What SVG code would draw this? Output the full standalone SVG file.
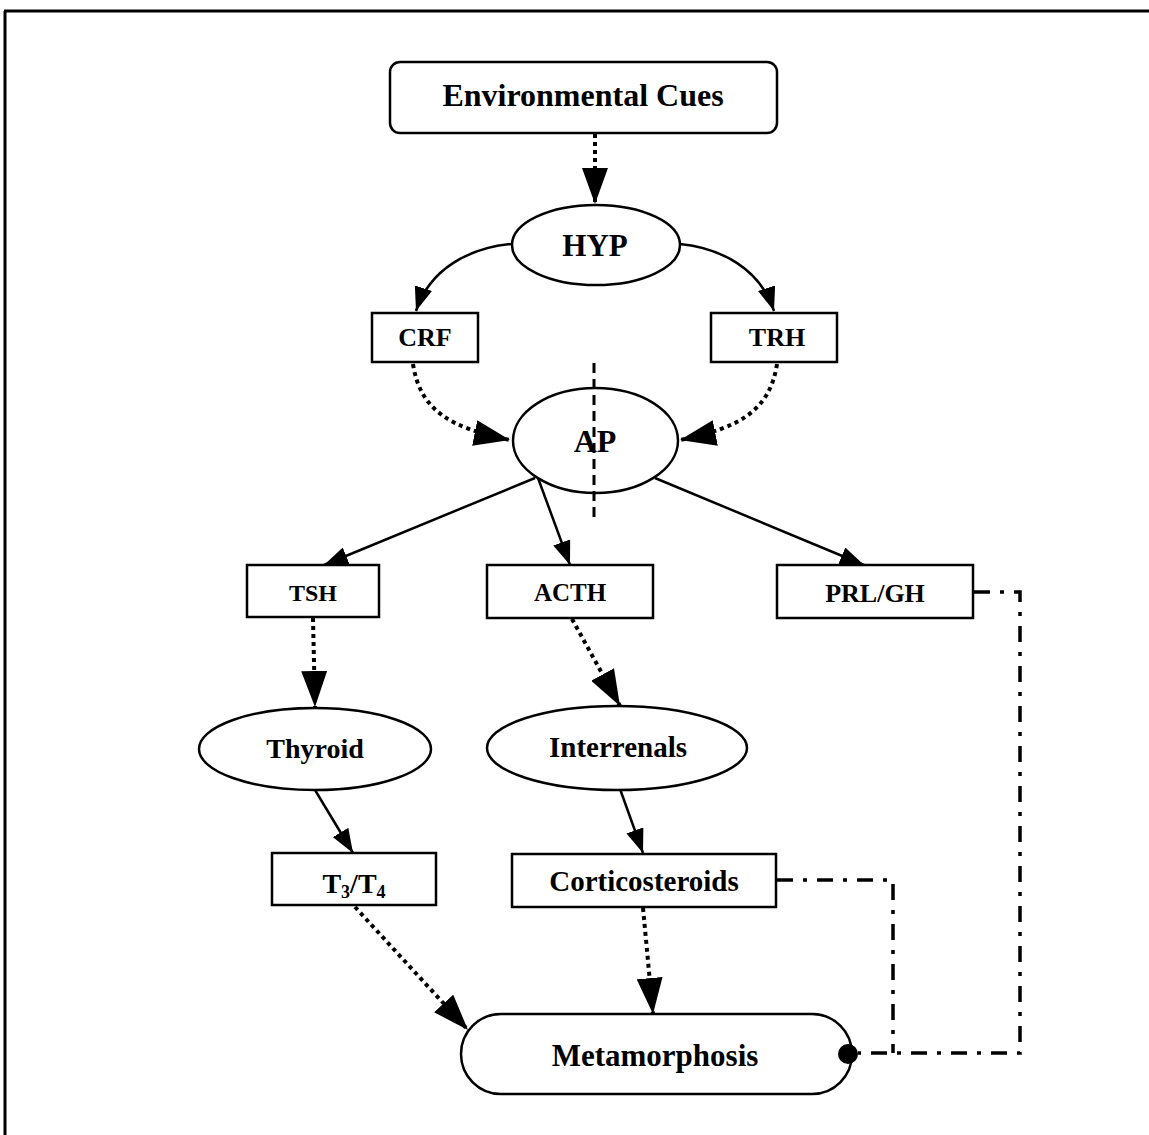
<svg xmlns="http://www.w3.org/2000/svg" width="1149" height="1135" viewBox="0 0 1149 1135">
<style>
.n{fill:#fff;stroke:#000;stroke-width:2.5}
.t{font-family:"Liberation Serif","Times New Roman",serif;font-weight:bold;fill:#000;text-anchor:middle}
.s{fill:none;stroke:#000;stroke-width:2.5}
.d{fill:none;stroke:#000;stroke-width:4;stroke-dasharray:4 4}
.dd{fill:none;stroke:#000;stroke-width:3.5;stroke-dasharray:16 10 4 10}
.da{fill:none;stroke:#000;stroke-width:3;stroke-dasharray:10 6}
</style>
<defs>
<marker id="big" viewBox="0 0 36 26" refX="36" refY="13" markerWidth="36" markerHeight="26" markerUnits="userSpaceOnUse" orient="auto">
<path d="M0,0 L36,13 L0,26 z" fill="#000"/>
</marker>
<marker id="sm" viewBox="0 0 24 18" refX="24" refY="9" markerWidth="24" markerHeight="18" markerUnits="userSpaceOnUse" orient="auto">
<path d="M0,0 L24,9 L0,18 z" fill="#000"/>
</marker>
</defs>
<rect width="1149" height="1135" fill="#fff"/>
<g id="frame">
<path d="M4,11 H1149 M5,11 V1135" fill="none" stroke="#000" stroke-width="3"/>
</g>
<g id="connectors">
<line class="d" x1="595" y1="134" x2="595" y2="204" marker-end="url(#big)"/>
<path class="s" d="M511,244 C470,248 430,268 416,311" marker-end="url(#sm)"/>
<path class="s" d="M680,244 C720,248 760,268 774,311" marker-end="url(#sm)"/>
<path class="d" d="M413,364 C420,410 450,428 510,440" marker-end="url(#big)"/>
<path class="d" d="M777,364 C770,410 740,428 680,440" marker-end="url(#big)"/>
<line class="s" x1="535" y1="478" x2="324" y2="565" marker-end="url(#sm)"/>
<line class="s" x1="538" y1="478" x2="570" y2="565" marker-end="url(#sm)"/>
<line class="s" x1="655" y1="478" x2="864" y2="565" marker-end="url(#sm)"/>
<line class="d" x1="313" y1="618" x2="315" y2="707" marker-end="url(#big)"/>
<line class="d" x1="572" y1="619" x2="620" y2="706" marker-end="url(#big)"/>
<line class="s" x1="315" y1="790" x2="353" y2="853" marker-end="url(#sm)"/>
<line class="s" x1="620" y1="789" x2="643" y2="853" marker-end="url(#sm)"/>
<line class="d" x1="355" y1="907" x2="468" y2="1030" marker-end="url(#big)"/>
<line class="d" x1="643" y1="908" x2="653" y2="1014" marker-end="url(#big)"/>
<polyline class="dd" points="777,880 893,880 893,1053"/>
<polyline class="dd" points="974,592 1020,592 1020,1053 858,1053"/>
</g>
<g id="env"><rect class="n" x="390" y="62" width="387" height="71" rx="10"/><text class="t" x="583" y="106" font-size="32">Environmental Cues</text></g>
<g id="hyp"><ellipse class="n" cx="596" cy="245" rx="84" ry="40"/><text class="t" x="595" y="256" font-size="31">HYP</text></g>
<g id="crf"><rect class="n" x="372" y="313" width="106" height="49"/><text class="t" x="425" y="346" font-size="26">CRF</text></g>
<g id="trh"><rect class="n" x="711" y="313" width="126" height="49"/><text class="t" x="777" y="346" font-size="26">TRH</text></g>
<g id="ap"><ellipse class="n" cx="595.5" cy="440.5" rx="82.5" ry="52.5"/><text class="t" x="595" y="452" font-size="32">AP</text></g>
<line id="divider" class="da" x1="594" y1="363" x2="594" y2="518"/>
<g id="tsh"><rect class="n" x="247" y="565" width="132" height="52"/><text class="t" x="313" y="601" font-size="24">TSH</text></g>
<g id="acth"><rect class="n" x="487" y="565" width="166" height="53"/><text class="t" x="570" y="601" font-size="25">ACTH</text></g>
<g id="prlgh"><rect class="n" x="777" y="565" width="196" height="53"/><text class="t" x="875" y="602" font-size="26">PRL/GH</text></g>
<g id="thyroid"><ellipse class="n" cx="315" cy="749" rx="116" ry="41"/><text class="t" x="315" y="758" font-size="28">Thyroid</text></g>
<g id="interrenals"><ellipse class="n" cx="617" cy="748" rx="130" ry="42"/><text class="t" x="618" y="757" font-size="29">Interrenals</text></g>
<g id="t3t4"><rect class="n" x="272" y="853" width="164" height="52"/><text class="t" x="354" y="893" font-size="28">T<tspan font-size="18" dy="5">3</tspan><tspan dy="-5">/T</tspan><tspan font-size="18" dy="5">4</tspan></text></g>
<g id="cort"><rect class="n" x="512" y="854" width="264" height="53"/><text class="t" x="644" y="891" font-size="29">Corticosteroids</text></g>
<g id="meta"><rect class="n" x="461" y="1014" width="391" height="80" rx="40"/><text class="t" x="655" y="1066" font-size="31">Metamorphosis</text></g>
<circle id="dot" cx="848" cy="1054" r="10" fill="#000"/>
</svg>
